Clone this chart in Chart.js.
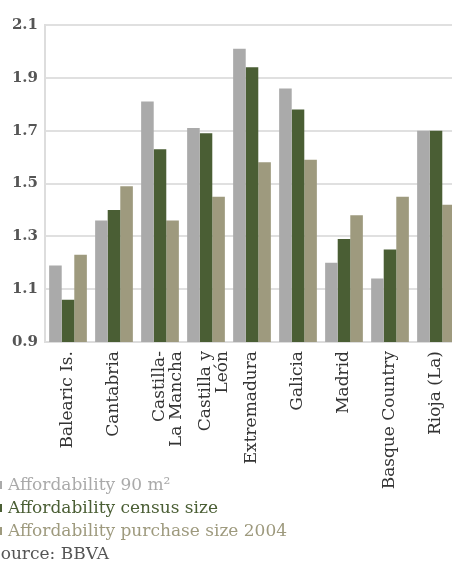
<!DOCTYPE html>
<html>
<head>
<meta charset="utf-8">
<script src="https://cdn.jsdelivr.net/npm/chart.js@4/dist/chart.umd.min.js"></script>
<style>
  html, body { margin: 0; padding: 0; background: #fff; overflow: hidden; width: 452px; height: 564px; }
  #wrap { position: relative; width: 452px; height: 564px; overflow: hidden; }
  #c { position: absolute; left: 0; top: 0; }
  #legend { position: absolute; left: 0; top: 473px; font-family: "DejaVu Serif", "Liberation Serif", serif; font-size: 17px; line-height: 23px; white-space: nowrap; }
  #legend .row { position: relative; padding-left: 8px; }
  #legend .sw { position: absolute; left: -6px; top: 8px; width: 8px; height: 8px; }
  #source { position: absolute; left: -11px; top: 543px; font-family: "DejaVu Serif", "Liberation Serif", serif; font-size: 17px; color: #555; white-space: nowrap; }
</style>
</head>
<body>
<div id="wrap">
  <canvas id="c" width="462" height="564"></canvas>
  <div id="legend"></div>
  <div id="source">Source: BBVA</div>
</div>
<script>
const categories = ["Balearic Is.", "Cantabria", ["Castilla-", "La Mancha"], ["Castilla y", "León"], "Extremadura", "Galicia", "Madrid", "Basque Country", "Rioja (La)"];
const seriesNames = ["Affordability 90 m\u00B2", "Affordability census size", "Affordability purchase size 2004"];
const affordability90 = [1.19, 1.36, 1.81, 1.71, 2.01, 1.86, 1.20, 1.14, 1.70];
const affordabilityCensus = [1.06, 1.40, 1.63, 1.69, 1.94, 1.78, 1.29, 1.25, 1.70];
const affordabilityPurchase = [1.23, 1.49, 1.36, 1.45, 1.58, 1.59, 1.38, 1.45, 1.42];
const yTicks = [0.9, 1.1, 1.3, 1.5, 1.7, 1.9, 2.1];

const colors = ["#aaaaaa", "#4a5e34", "#9e9a7e"];
const values = [affordability90, affordabilityCensus, affordabilityPurchase];

const chart = new Chart(document.getElementById("c"), {
  type: "bar",
  data: {
    labels: categories,
    datasets: values.map((v, i) => ({
      label: seriesNames[i],
      data: v,
      backgroundColor: colors[i],
      borderWidth: 0,
      categoryPercentage: 0.82,
      barPercentage: 1.0
    }))
  },
  options: {
    responsive: false,
    animation: false,
    layout: { padding: { top: 25, right: 0, bottom: 0, left: 0 } },
    plugins: { legend: { display: false }, tooltip: { enabled: false }, title: { display: false } },
    scales: {
      x: {
        grid: { display: false, drawTicks: false },
        border: { display: true, color: "#dddddd", width: 2 },
        ticks: {
          color: "#333",
          font: { family: "'DejaVu Serif', 'Liberation Serif', serif", size: 17, lineHeight: 1.0 },
          minRotation: 90,
          maxRotation: 90,
          padding: 9,
          autoSkip: false
        },
        afterFit: (s) => { s.height = 222; }
      },
      y: {
        min: yTicks[0],
        max: yTicks[yTicks.length - 1],
        afterBuildTicks: (s) => { s.ticks = yTicks.map(v => ({ value: v })); },
        grid: { color: "#e0e0e0", lineWidth: 2, drawTicks: false },
        border: { display: true, color: "#dddddd", width: 2 },
        ticks: {
          color: "#555",
          font: { family: "'DejaVu Serif', 'Liberation Serif', serif", size: 15, weight: "bold" },
          padding: 7,
          callback: (v) => Number(v).toFixed(1)
        },
        afterFit: (s) => { s.width = 45; }
      }
    }
  }
});

const legend = document.getElementById("legend");
chart.data.datasets.forEach((ds) => {
  const row = document.createElement("div");
  row.className = "row";
  row.style.color = ds.backgroundColor;
  const sw = document.createElement("span");
  sw.className = "sw";
  sw.style.background = ds.backgroundColor;
  row.appendChild(sw);
  const t = document.createElement("span");
  t.textContent = ds.label;
  row.appendChild(t);
  legend.appendChild(row);
});
</script>
</body>
</html>
